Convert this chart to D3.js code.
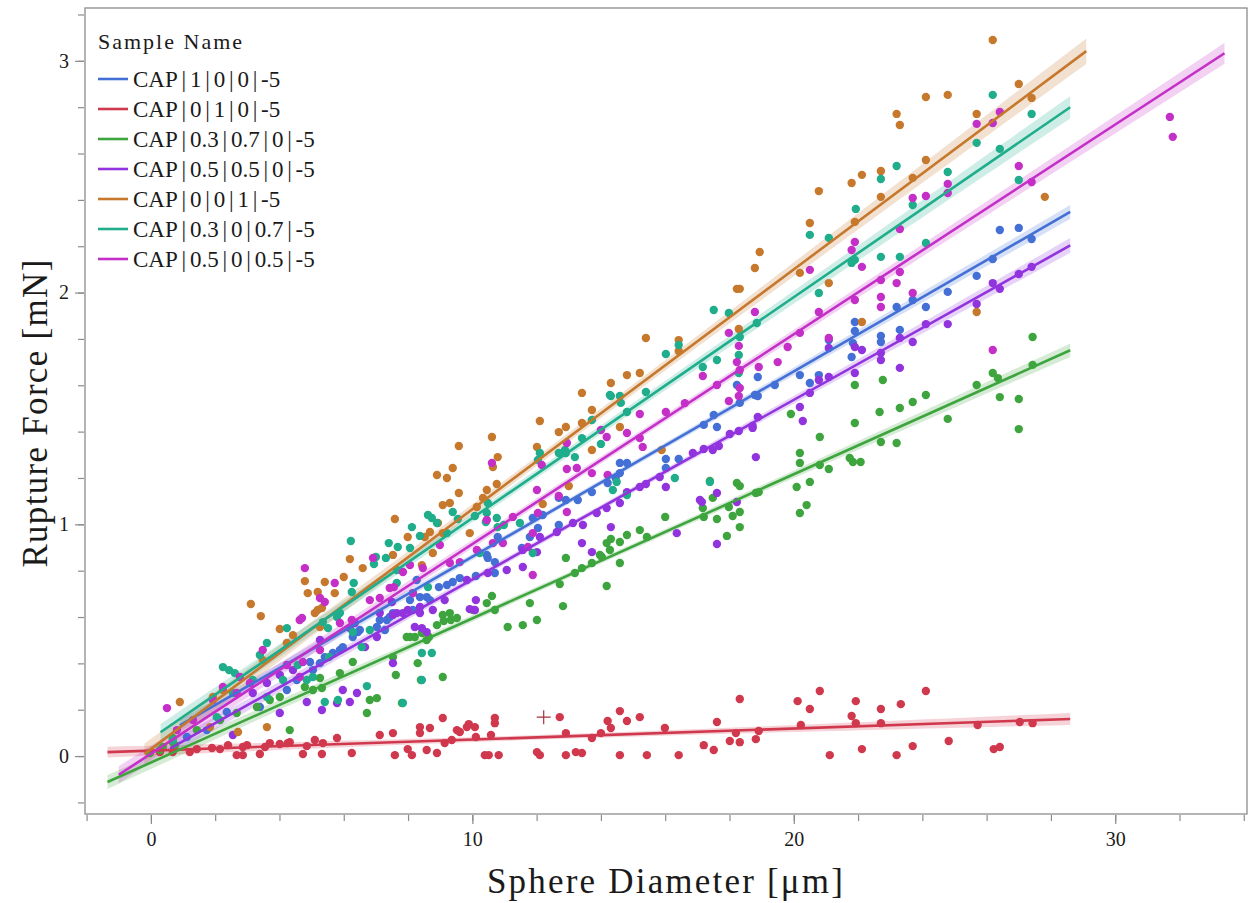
<!DOCTYPE html>
<html><head><meta charset="utf-8">
<script src="https://cdn.jsdelivr.net/npm/d3@7/dist/d3.min.js"></script>
<style>
body{margin:0;background:#fff;}
svg text{font-family:"Liberation Serif","DejaVu Serif",serif;fill:#1a1a1a;}
</style></head>
<body><svg id="chart" width="1252" height="903"></svg>
<script>
// ---------- data ----------
const seriesNames = ["CAP|1|0|0|-5","CAP|0|1|0|-5","CAP|0.3|0.7|0|-5","CAP|0.5|0.5|0|-5","CAP|0|0|1|-5","CAP|0.3|0|0.7|-5","CAP|0.5|0|0.5|-5"];
const seriesColors = ["#4470d6","#d0384e","#3ea53e","#9234de","#c6782c","#20ad8b","#c42fc8"];
// fit lines: intercept, slope, x start, x end
const fitIntercept = [0.06, 0.0235, -0.028, -0.013, 0.03, 0.074, 0.01];
const fitSlope     = [0.080, 0.00477, 0.0622, 0.0775, 0.1035, 0.0953, 0.0905];
const fitXStart    = [0.9, -1.35, -1.35, 0.6, -0.2, 0.3, -1.0];
const fitXEnd      = [28.6, 28.6, 28.6, 28.6, 29.1, 28.6, 33.4];
// confidence band half width at centre and at the far end (mN)
const bandCentre   = [0.012, 0.010, 0.012, 0.012, 0.020, 0.018, 0.015];
const bandEnd      = [0.030, 0.026, 0.030, 0.032, 0.055, 0.048, 0.045];

const xTickLabels = [0, 10, 20, 30];
const yTickLabels = [0, 1, 2, 3];

const ptsBlue = [[1.12,0.082],[1.74,0.112],[2.36,0.190],[3.39,0.212],[4.23,0.285],[4.54,0.328],[4.95,0.406],[5.04,0.371],[5.26,0.401],[5.41,0.427],[5.66,0.445],[5.88,0.458],[5.97,0.470],[6.28,0.514],[6.44,0.535],[6.50,0.544],[7.03,0.557],[7.12,0.587],[7.28,0.544],[7.34,0.587],[7.43,0.600],[7.53,0.617],[8.06,0.673],[8.15,0.703],[8.15,0.630],[8.27,0.760],[8.37,0.686],[8.58,0.686],[8.68,0.673],[8.96,0.729],[9.21,0.738],[9.39,0.751],[9.61,0.768],[10.11,0.777],[10.45,0.868],[10.48,0.855],[10.70,0.837],[10.70,0.790],[10.79,0.945],[11.54,0.898],[11.79,0.945],[11.88,1.027],[12.04,0.984],[12.19,1.040],[12.69,1.114],[12.69,0.997],[12.91,1.105],[13.28,1.105],[13.72,1.139],[14.21,1.178],[14.46,1.200],[14.59,1.265],[14.59,1.221],[14.81,1.265],[16.02,1.282],[16.02,1.243],[16.42,1.282],[17.20,1.429],[17.51,1.472],[17.61,1.420],[18.23,1.601],[18.32,1.524],[18.79,1.558],[18.88,1.636],[18.88,1.554],[19.41,1.601],[20.19,1.644],[20.50,1.610],[20.78,1.644],[21.09,1.795],[21.80,1.722],[21.84,1.782],[21.90,1.873],[21.90,1.834],[22.71,1.813],[22.71,1.787],[23.20,1.938],[23.30,1.839],[23.70,1.968],[24.11,1.938],[24.79,2.003],[25.69,2.072],[26.19,2.145],[26.41,2.270],[27.00,2.279],[27.40,2.231]];

const ptsRed = [[0.28,0.017],[0.68,0.017],[1.21,0.017],[1.43,0.030],[1.90,0.035],[2.15,0.030],[2.40,0.047],[2.67,0.004],[2.86,0.039],[2.86,0.004],[2.99,0.047],[3.39,0.009],[3.55,0.039],[3.70,0.056],[4.01,0.052],[4.26,0.056],[4.32,0.060],[4.73,0.009],[4.85,0.043],[5.10,0.069],[5.32,0.009],[5.35,0.056],[5.79,0.078],[6.25,0.013],[7.12,0.091],[7.53,0.099],[7.59,0.004],[7.99,0.030],[8.12,0.004],[8.37,0.125],[8.37,0.099],[8.58,0.026],[8.68,0.121],[8.90,0.013],[9.08,0.164],[9.14,0.056],[9.36,0.069],[9.52,0.112],[9.61,0.104],[9.83,0.125],[9.89,0.138],[10.08,0.125],[10.11,0.082],[10.39,0.004],[10.51,0.004],[10.58,0.091],[10.70,0.164],[10.70,0.142],[10.82,0.004],[12.01,0.017],[12.10,0.004],[12.72,0.168],[12.91,0.099],[12.91,0.004],[13.22,0.017],[13.41,0.013],[13.72,0.078],[14.00,0.099],[14.21,0.151],[14.31,0.121],[14.59,0.194],[14.59,0.004],[14.81,0.151],[15.21,0.168],[15.43,0.004],[15.99,0.121],[16.42,0.004],[17.20,0.047],[17.51,0.026],[17.61,0.147],[18.01,0.065],[18.20,0.099],[18.32,0.246],[18.32,0.060],[18.82,0.073],[18.91,0.108],[20.12,0.237],[20.22,0.134],[20.50,0.203],[20.81,0.281],[21.12,0.004],[21.80,0.173],[21.93,0.237],[21.93,0.142],[22.12,0.030],[22.71,0.203],[22.71,0.142],[23.20,0.004],[23.33,0.224],[23.70,0.043],[24.11,0.281],[24.82,0.065],[25.72,0.134],[26.22,0.030],[26.41,0.039],[27.03,0.147],[27.43,0.142]];
const redExcluded = [[12.22,0.168]];

const ptsGreen = [[-0.03,0.013],[0.28,0.026],[0.37,0.039],[0.68,0.060],[0.68,0.078],[0.75,0.047],[1.43,0.112],[2.15,0.155],[2.67,0.186],[3.30,0.212],[3.70,0.242],[4.01,0.255],[4.32,0.112],[4.79,0.298],[5.04,0.285],[5.26,0.337],[5.32,0.294],[5.88,0.358],[6.28,0.406],[6.72,0.186],[6.81,0.242],[7.03,0.250],[7.53,0.427],[7.62,0.350],[7.81,0.229],[7.96,0.514],[8.06,0.514],[8.21,0.514],[8.30,0.401],[8.40,0.328],[8.43,0.531],[8.58,0.501],[8.65,0.514],[8.90,0.565],[9.08,0.609],[9.08,0.341],[9.11,0.583],[9.30,0.617],[9.33,0.587],[9.52,0.596],[10.02,0.630],[10.45,0.660],[10.61,0.691],[10.70,0.630],[11.10,0.557],[11.57,0.565],[11.79,0.660],[12.01,0.587],[12.72,0.742],[12.82,0.647],[12.91,0.855],[13.19,0.790],[13.41,0.811],[13.72,0.833],[13.97,0.868],[14.03,0.859],[14.18,0.919],[14.18,0.734],[14.28,0.889],[14.31,0.937],[14.59,0.924],[14.59,0.833],[14.81,0.954],[15.21,0.975],[15.43,0.945],[16.00,1.032],[17.17,1.070],[17.20,1.032],[17.39,1.187],[17.48,1.114],[17.61,1.023],[17.92,0.950],[17.98,1.075],[18.10,1.036],[18.23,1.178],[18.32,1.165],[18.32,1.053],[18.32,0.988],[18.82,1.135],[18.91,1.139],[19.91,1.476],[20.09,1.161],[20.19,1.308],[20.19,1.265],[20.19,1.049],[20.40,1.083],[20.50,1.183],[20.81,1.377],[20.81,1.256],[21.09,1.239],[21.74,1.286],[21.84,1.269],[21.90,1.601],[21.90,1.437],[22.08,1.269],[22.67,1.485],[22.71,1.355],[22.77,1.623],[23.20,1.351],[23.30,1.502],[23.70,1.528],[24.11,1.558],[24.79,1.455],[25.69,1.601],[26.19,1.653],[26.35,1.631],[26.41,1.549],[27.00,1.541],[27.00,1.411],[27.43,1.688],[27.43,1.808]];

const ptsPurple = [[2.55,0.091],[3.17,0.272],[3.61,0.315],[4.01,0.186],[4.01,0.350],[4.42,0.371],[4.85,0.233],[5.26,0.501],[5.32,0.199],[5.79,0.229],[5.97,0.285],[6.19,0.233],[6.19,0.552],[6.34,0.574],[6.41,0.272],[6.66,0.470],[7.03,0.514],[7.12,0.617],[7.50,0.665],[7.53,0.609],[7.53,0.401],[7.65,0.617],[7.84,0.617],[7.99,0.630],[8.21,0.557],[8.37,0.643],[8.37,0.617],[8.43,0.552],[8.58,0.535],[8.77,0.630],[9.14,0.673],[9.83,0.760],[9.92,0.634],[10.08,0.630],[10.11,0.673],[10.48,0.790],[11.07,0.803],[11.57,0.816],[11.57,0.889],[12.01,0.880],[12.10,0.945],[12.63,0.967],[13.13,1.006],[13.41,0.919],[13.44,0.997],[13.72,0.880],[13.87,1.049],[14.18,1.070],[14.31,0.988],[14.59,1.092],[14.81,1.139],[15.21,1.161],[15.40,1.174],[15.83,1.204],[16.02,1.161],[16.36,0.962],[16.86,1.308],[17.08,1.105],[17.14,1.096],[17.20,1.325],[17.48,1.321],[17.61,1.135],[17.61,0.915],[17.67,1.338],[18.01,1.390],[18.23,1.096],[18.29,1.403],[18.72,1.424],[18.72,1.416],[18.82,1.290],[18.88,1.463],[20.19,1.506],[20.28,1.446],[20.50,1.567],[20.78,1.623],[21.09,1.761],[21.09,1.636],[21.90,1.765],[21.90,1.653],[22.12,1.752],[22.71,1.739],[22.71,1.709],[23.30,1.804],[23.30,1.675],[23.70,1.787],[24.11,1.864],[24.79,1.864],[25.69,1.951],[26.19,2.041],[26.41,2.016],[27.00,2.080],[27.40,2.111]];

const ptsOrange = [[0.90,0.233],[1.84,0.125],[1.93,0.255],[2.24,0.285],[2.71,0.104],[3.11,0.656],[3.42,0.604],[3.48,0.414],[3.61,0.125],[4.01,0.548],[4.23,0.488],[4.42,0.522],[4.79,0.755],[4.88,0.703],[5.10,0.617],[5.19,0.708],[5.19,0.630],[5.26,0.557],[5.32,0.639],[5.41,0.751],[5.72,0.703],[6.00,0.773],[6.19,0.850],[6.59,0.811],[7.53,0.868],[7.59,1.023],[7.99,0.945],[8.43,0.824],[8.52,0.945],[8.68,0.967],[8.77,0.876],[8.90,1.213],[8.93,1.006],[9.08,1.083],[9.08,0.962],[9.21,1.200],[9.30,1.092],[9.39,1.243],[9.58,1.338],[9.58,1.135],[9.92,0.962],[10.14,1.075],[10.33,1.114],[10.45,1.148],[10.61,1.377],[10.64,1.247],[10.76,1.174],[10.79,1.290],[12.01,1.334],[12.10,1.446],[12.19,1.088],[12.69,1.398],[12.91,1.420],[13.00,1.165],[13.41,1.567],[13.41,1.437],[13.72,1.493],[13.72,1.321],[14.31,1.610],[14.59,1.420],[14.81,1.644],[15.21,1.653],[15.40,1.804],[15.89,1.321],[16.42,1.795],[16.42,1.748],[18.23,2.016],[18.29,1.843],[18.32,2.016],[18.79,2.106],[18.94,2.175],[20.19,2.085],[20.50,2.300],[20.78,2.438],[21.09,2.041],[21.80,2.473],[21.90,2.305],[22.12,2.508],[22.12,1.873],[22.71,2.525],[22.71,2.413],[23.20,2.771],[23.30,2.723],[23.70,2.495],[24.11,2.572],[24.11,2.844],[24.79,2.853],[25.69,2.771],[25.69,1.916],[26.19,3.090],[27.00,2.900],[27.40,2.840],[27.81,2.413]];

const ptsTeal = [[0.68,0.069],[2.05,0.168],[2.24,0.384],[2.43,0.371],[2.55,0.272],[2.61,0.358],[3.17,0.328],[3.39,0.436],[3.61,0.488],[3.61,0.255],[4.11,0.328],[4.23,0.552],[4.57,0.393],[4.85,0.328],[5.04,0.341],[5.35,0.578],[5.41,0.233],[5.51,0.552],[5.54,0.427],[5.79,0.600],[5.82,0.242],[5.88,0.617],[6.22,0.928],[6.25,0.708],[6.28,0.535],[6.31,0.747],[6.56,0.470],[6.72,0.302],[6.81,0.544],[6.94,0.829],[7.00,0.859],[7.31,0.855],[7.40,0.919],[7.65,0.803],[7.65,0.747],[7.68,0.902],[7.84,0.229],[8.06,0.898],[8.12,0.988],[8.37,0.950],[8.43,0.445],[8.43,0.328],[8.62,1.040],[8.62,0.729],[8.74,1.027],[8.74,0.445],[8.90,1.006],[9.21,0.962],[9.39,1.053],[9.55,1.023],[10.08,1.036],[10.23,0.876],[10.42,1.010],[10.45,1.049],[10.48,1.092],[10.76,1.027],[10.79,0.988],[10.98,0.997],[11.48,1.006],[11.88,0.876],[12.04,1.278],[12.10,1.308],[12.69,1.308],[12.88,1.321],[12.91,1.308],[13.19,1.290],[13.41,1.372],[13.72,1.450],[14.00,1.347],[14.28,1.558],[14.31,1.554],[14.37,1.148],[14.49,1.183],[14.59,1.554],[14.62,1.524],[14.81,1.485],[14.81,1.126],[15.40,1.571],[16.02,1.735],[16.30,1.200],[16.42,1.774],[17.17,1.679],[17.39,1.183],[17.51,1.925],[17.61,1.709],[17.98,1.912],[18.29,1.731],[18.29,1.653],[18.32,1.808],[18.85,1.869],[20.50,2.249],[20.78,1.998],[21.09,2.236],[21.80,2.128],[21.90,2.141],[21.93,2.361],[22.71,2.490],[22.71,2.154],[23.20,2.546],[23.30,2.154],[23.70,2.378],[24.11,2.214],[24.79,2.520],[25.69,2.646],[26.19,2.853],[26.41,2.620],[27.00,2.486],[27.40,2.771]];

const ptsMagenta = [[0.50,0.207],[0.81,0.112],[1.31,0.155],[1.93,0.242],[2.24,0.298],[2.67,0.272],[2.77,0.341],[3.08,0.315],[3.48,0.458],[4.23,0.393],[4.63,0.587],[4.63,0.341],[4.70,0.596],[4.73,0.406],[4.79,0.811],[5.26,0.458],[5.26,0.682],[5.41,0.665],[5.72,0.747],[5.88,0.574],[6.25,0.587],[6.81,0.673],[6.91,0.855],[7.12,0.682],[7.43,0.725],[7.56,0.729],[7.84,0.794],[8.06,0.824],[8.15,0.703],[8.46,0.811],[8.99,0.911],[9.30,0.833],[9.61,0.837],[10.14,0.889],[10.45,1.019],[10.61,1.265],[10.64,0.919],[10.95,0.919],[11.26,1.032],[11.73,0.902],[11.88,0.962],[11.88,0.781],[12.01,1.148],[12.04,1.049],[12.16,1.256],[12.69,1.122],[12.94,1.351],[12.94,1.239],[12.94,1.053],[13.25,1.243],[13.72,1.221],[14.00,1.407],[14.18,1.377],[14.21,1.213],[14.81,1.394],[15.21,1.476],[15.21,1.372],[15.30,1.334],[16.02,1.485],[16.61,1.523],[17.17,1.640],[17.61,1.601],[17.98,1.826],[17.98,1.532],[18.23,1.700],[18.29,1.770],[18.29,1.554],[18.32,1.666],[18.32,1.588],[18.79,1.916],[18.91,1.679],[19.50,1.700],[19.81,1.765],[20.19,1.826],[20.50,2.098],[20.78,1.916],[21.09,1.804],[21.80,2.184],[21.90,2.218],[21.90,1.968],[22.12,2.111],[22.71,2.054],[22.71,1.981],[22.71,1.938],[23.20,2.041],[23.30,2.274],[23.30,2.089],[23.70,2.408],[23.70,1.998],[24.11,2.417],[24.79,2.469],[24.79,2.430],[25.69,2.728],[26.19,2.732],[26.19,1.752],[26.41,2.779],[27.00,2.546],[27.40,2.477],[31.70,2.758],[31.79,2.672]];

const seriesPoints = [ptsBlue, ptsRed, ptsGreen, ptsPurple, ptsOrange, ptsTeal, ptsMagenta];

// ---------- layout ----------
const svg = d3.select("#chart");
const plot = {left:85, right:1247, top:8, bottom:814};
const x = d3.scaleLinear().domain([-2.05, 34.1]).range([plot.left, plot.right]);
const y = d3.scaleLinear().domain([-0.25, 3.228]).range([plot.bottom, plot.top]);

svg.append("defs").append("clipPath").attr("id","clip")
  .append("rect").attr("x",plot.left).attr("y",plot.top)
  .attr("width",plot.right-plot.left).attr("height",plot.bottom-plot.top);

const g = svg.append("g").attr("clip-path","url(#clip)");

// bands
seriesNames.forEach((name,i)=>{
  const pts = seriesPoints[i];
  const m = d3.mean(pts, d=>d[0]);
  const L = Math.max(Math.abs(fitXEnd[i]-m), Math.abs(fitXStart[i]-m));
  const c = bandCentre[i], e = bandEnd[i];
  const xs = d3.range(0, 61).map(k => fitXStart[i] + (fitXEnd[i]-fitXStart[i])*k/60);
  const hw = xv => Math.sqrt(c*c + (e*e-c*c)*Math.pow((xv-m)/L,2));
  const area = d3.area()
    .x(d=>x(d))
    .y0(d=>y(fitIntercept[i]+fitSlope[i]*d - hw(d)))
    .y1(d=>y(fitIntercept[i]+fitSlope[i]*d + hw(d)));
  g.append("path").datum(xs).attr("d",area)
    .attr("fill",seriesColors[i]).attr("fill-opacity",0.22).attr("stroke","none");
});

// points
seriesNames.forEach((name,i)=>{
  g.append("g").selectAll("circle").data(seriesPoints[i]).join("circle")
    .attr("cx",d=>x(d[0])).attr("cy",d=>y(d[1])).attr("r",4.2)
    .attr("fill",seriesColors[i]);
});
// excluded point marker (+)
g.append("g").selectAll("path").data(redExcluded).join("path")
  .attr("d",d=>{const cx=x(d[0]), cy=y(d[1]); return `M${cx-7},${cy}H${cx+7}M${cx},${cy-7}V${cy+7}`;})
  .attr("stroke","#a8323e").attr("stroke-width",1.2).attr("fill","none");

// lines
seriesNames.forEach((name,i)=>{
  const xs = [fitXStart[i], fitXEnd[i]];
  g.append("path").datum(xs)
    .attr("d", d3.line().x(d=>x(d)).y(d=>y(fitIntercept[i]+fitSlope[i]*d)))
    .attr("stroke",seriesColors[i]).attr("stroke-width",2.6).attr("fill","none");
});

// frame
svg.append("rect").attr("x",plot.left).attr("y",plot.top)
  .attr("width",plot.right-plot.left).attr("height",plot.bottom-plot.top)
  .attr("fill","none").attr("stroke","#8c8c8c").attr("stroke-width",1.3);

// axes
const xMinor = d3.range(-2, 34.01, 2);
const yMinor = d3.range(-0.2, 3.21, 0.2).map(v=>Math.round(v*10)/10);
const xAxisMinor = d3.axisBottom(x).tickValues(xMinor).tickSize(6).tickFormat("");
const xAxisMajor = d3.axisBottom(x).tickValues(xTickLabels).tickSize(9).tickPadding(8).tickFormat(d3.format("d"));
const yAxisMinor = d3.axisLeft(y).tickValues(yMinor).tickSize(6).tickFormat("");
const yAxisMajor = d3.axisLeft(y).tickValues(yTickLabels).tickSize(9).tickPadding(6).tickFormat(d3.format("d"));

function styleAxis(sel){
  sel.select(".domain").remove();
  sel.selectAll("line").attr("stroke","#8c8c8c").attr("stroke-width",1.2);
  sel.selectAll("text").attr("font-size",20).attr("fill","#1a1a1a")
    .attr("font-family",'"Liberation Serif","DejaVu Serif",serif');
}
svg.append("g").attr("transform",`translate(0,${plot.bottom+1})`).call(xAxisMinor).call(styleAxis);
svg.append("g").attr("transform",`translate(0,${plot.bottom+1})`).call(xAxisMajor).call(styleAxis);
svg.append("g").attr("transform",`translate(${plot.left-1},0)`).call(yAxisMinor).call(styleAxis);
svg.append("g").attr("transform",`translate(${plot.left-1},0)`).call(yAxisMajor).call(styleAxis);

// axis titles
svg.append("text").attr("x",666).attr("y",893).attr("text-anchor","middle")
  .attr("font-size",35).attr("letter-spacing",2.2).text("Sphere Diameter [μm]");
svg.append("text").attr("transform","translate(47,413) rotate(-90)").attr("text-anchor","middle")
  .attr("font-size",35).attr("letter-spacing",1.3).text("Rupture Force [mN]");

// legend
const leg = svg.append("g");
leg.append("text").attr("x",98).attr("y",49).attr("font-size",22).attr("letter-spacing",2)
  .text("Sample Name");
seriesNames.forEach((name,i)=>{
  const yy = 79 + i*30;
  leg.append("line").attr("x1",98).attr("x2",128).attr("y1",yy).attr("y2",yy)
    .attr("stroke",seriesColors[i]).attr("stroke-width",2.6);
  const t = leg.append("text").attr("x",133).attr("y",yy+8).attr("font-size",23);
  const parts = name.split("|");
  parts.forEach((p,k)=>{
    if(k>0){
      t.append("tspan").attr("dx",3.8).text("|");
      t.append("tspan").attr("dx",3.8).text(p);
    } else {
      t.append("tspan").text(p);
    }
  });
});
</script></body></html>
